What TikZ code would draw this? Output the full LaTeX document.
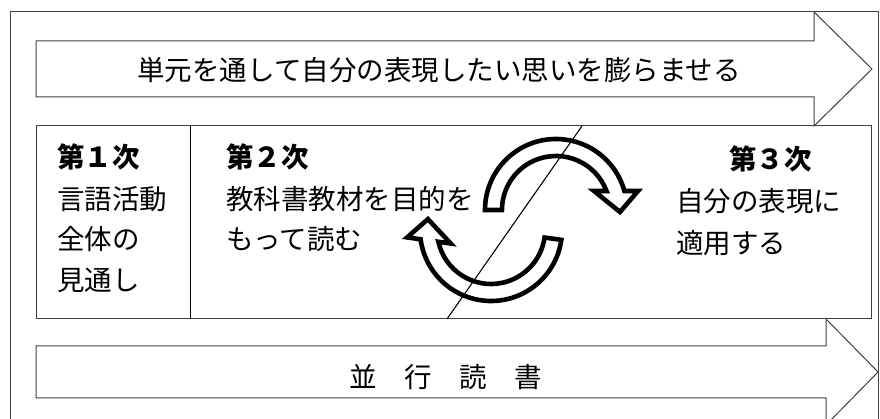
\documentclass[tikz,border=0pt]{standalone}
\usepackage{fontspec}
\newfontfamily\jp{Noto Sans CJK JP}
\begin{document}
\begin{tikzpicture}[x=1pt,y=1pt,
  thin frame/.style={draw=black!75, line width=1pt},
  txt/.style={inner sep=0pt, font=\jp\fontsize{27.5pt}{33pt}\selectfont},
  hd/.style={txt, font=\jp\bfseries\fontsize{27.5pt}{33pt}\selectfont},
  cyc/.style={draw=black, fill=white, line width=4.6pt, line join=miter}]
\useasboundingbox (0,0) rectangle (880,419);
% outer frame
\draw[thin frame] (10,-10) rectangle (878,407);
% top arrow
\draw[thin frame] (36,378) -- (814,378) -- (814,407) -- (872,350) -- (814,293) -- (814,322) -- (36,322) -- cycle;
\node[txt, anchor=base] (toptext) at (439,338) {単元を通して自分の表現したい思いを膨らませる};
% middle box
\draw[thin frame] (36,100) rectangle (871,293);
\coordinate (divT) at (190,293);
\coordinate (divB) at (190,100);
\draw[black, line width=1pt] (divT) -- (divB);
% bottom arrow
\draw[thin frame] (36,73) -- (826,73) -- (826,100) -- (878,47) -- (826,-6) -- (826,21) -- (36,21) -- cycle;
\node[txt, anchor=base] (bottext) at (445.5,31.5) {並　行　読　書};
% column texts
\node[hd, anchor=base west] (h1) at (57,251) {第１次};
\node[txt, anchor=base west] (a1) at (57,209.5) {言語活動};
\node[txt, anchor=base west] (a2) at (57,169.5) {全体の};
\node[txt, anchor=base west] (a3) at (57,128.5) {見通し};
\node[hd, anchor=base west] (h2) at (226,251) {第２次};
\node[txt, anchor=base west] (b1) at (226,209.5) {教科書教材を目的を};
\node[txt, anchor=base west] (b2) at (226,169.5) {もって読む};
\node[hd, anchor=base west] (h3) at (729,249.5) {第３次};
\node[txt, anchor=base west] (c1) at (676,207.5) {自分の表現に};
\node[txt, anchor=base west] (c2) at (676,165.5) {適用する};
% cycle arrows
\begin{scope}[shift={(556,209)}]
\draw[cyc] (-71,0) arc[start angle=180, end angle=15.5, radius=71pt] -- (82,19) -- (64,-2) -- (38,19) -- (50.5,19) arc[start angle=20.6, end angle=180, radius=54pt] -- cycle;
\end{scope}
\begin{scope}[shift={(491,189)}, rotate=172]
\draw[cyc] (-71,0) arc[start angle=180, end angle=15.5, radius=71pt] -- (82,19) -- (64,-2) -- (38,19) -- (50.5,19) arc[start angle=20.6, end angle=180, radius=54pt] -- cycle;
\end{scope}
% diagonal line
\coordinate (dT) at (582,293);
\coordinate (dB) at (447,100);
\draw[black, line width=1.1pt] (dT) -- (dB);
\end{tikzpicture}
\end{document}
